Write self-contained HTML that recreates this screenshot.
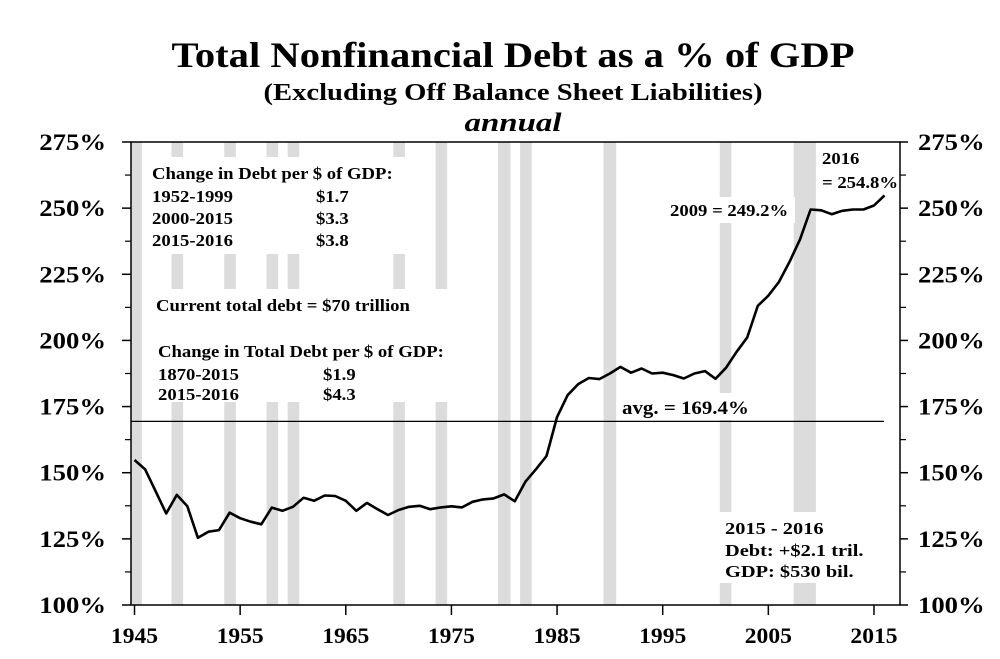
<!DOCTYPE html>
<html><head><meta charset="utf-8"><style>
body{margin:0;background:#fff;}
svg{display:block;font-family:"Liberation Serif",serif;font-weight:bold;}
</style></head><body>
<svg id="chart" width="1000" height="659" viewBox="0 0 1000 659">
<text x="513" y="67" text-anchor="middle" font-size="36" textLength="683" lengthAdjust="spacingAndGlyphs">Total Nonfinancial Debt as a % of GDP</text>
<text x="513" y="100" text-anchor="middle" font-size="24" textLength="499" lengthAdjust="spacingAndGlyphs">(Excluding Off Balance Sheet Liabilities)</text>
<text x="513" y="131" text-anchor="middle" font-size="26" font-style="italic" textLength="97" lengthAdjust="spacingAndGlyphs">annual</text>
<g id="bands"></g>
<g id="masks"></g>
<g id="axes"></g>
<line id="avgline" stroke="#000" stroke-width="1.3"/>
<path id="series" fill="none" stroke="#000" stroke-width="2.6" stroke-linejoin="round"/>
<g id="notes" font-size="17">
<text x="152" y="179">Change in Debt per $ of GDP:</text>
<text x="152" y="202">1952-1999</text>
<text x="316" y="202">$1.7</text>
<text x="152" y="224">2000-2015</text>
<text x="316" y="224">$3.3</text>
<text x="152" y="246">2015-2016</text>
<text x="316" y="246">$3.8</text>
<text x="156" y="311">Current total debt = $70 trillion</text>
<text x="158" y="357">Change in Total Debt per $ of GDP:</text>
<text x="158" y="380">1870-2015</text>
<text x="323" y="380">$1.9</text>
<text x="158" y="400">2015-2016</text>
<text x="323" y="400">$4.3</text>
<text x="822" y="164">2016</text>
<text x="822" y="188">= 254.8%</text>
<text x="670" y="216">2009 = 249.2%</text>
<text x="622" y="414" font-size="19">avg.  = 169.4%</text>
<text x="725" y="534" font-size="17">2015 - 2016</text>
<text x="725" y="556" font-size="17">Debt:  +$2.1 tril.</text>
<text x="725" y="577" font-size="17">GDP:  $530 bil.</text>
</g>
</svg>
<script>
const years=[];for(let y=1945;y<=2016;y++)years.push(y);
const debtPct=[154.8,151.3,143,134.6,141.6,137.4,125.4,127.7,128.3,134.9,132.8,131.5,130.5,136.8,135.6,137.1,140.5,139.4,141.4,141.2,139.4,135.6,138.6,136.2,134,135.9,137.1,137.5,136.2,136.9,137.3,136.9,139,139.9,140.3,141.8,139.2,146.6,151.3,156.3,171.1,179.3,183.5,185.8,185.4,187.5,190,187.8,189.4,187.5,187.8,186.9,185.6,187.5,188.4,185.5,189.7,195.7,201.1,213.1,216.9,222.1,229.7,238.2,249.5,249.2,247.7,249,249.5,249.5,251,254.8];
const avgPct=169.4;
const recessionStarts=[1944.7,1948.5,1953.5,1957.5,1959.5,1969.5,1973.5,1979.4,1981.5,1989.4,2000.4,2007.4];
const recessionEnds=[1945.7,1949.6,1954.6,1958.6,1960.6,1970.6,1974.6,1980.6,1982.6,1990.6,2001.5,2009.5];
const yTicks=[100,125,150,175,200,225,250,275];
const xTicks=[1945,1955,1965,1975,1985,1995,2005,2015];
const NS='http://www.w3.org/2000/svg';
const L=131,R=900,T=142,B=605;
const xs=y=>134.5+(y-1945)*10.564;
const ys=v=>B-(v-100)*(B-T)/175;
function mk(tag,attrs,parent){const e=document.createElementNS(NS,tag);for(const k in attrs)e.setAttribute(k,attrs[k]);parent.appendChild(e);return e;}
function stretch(el,f){const w=el.getComputedTextLength();el.setAttribute('textLength',(w*f).toFixed(1));el.setAttribute('lengthAdjust','spacingAndGlyphs');}
const bands=document.getElementById('bands');
recessionStarts.forEach((s,i)=>{
  const x0=Math.max(L,xs(s));
  const r=mk('rect',{x:x0,y:T,width:xs(recessionEnds[i])-x0,height:B-T,fill:'#dcdcdc'},bands);
  
  
});
const masks=document.getElementById('masks');
[[145,157,272,97],[145,289,322,113],[665,197,130,26],[617,393,145,27],[715,512,115,71]].forEach(m=>{
  const r=mk('rect',{x:m[0],y:m[1],width:m[2],height:m[3],fill:'#fff'},masks);
  
  
});
const ax=document.getElementById('axes');
const frame=mk('rect',{x:L,y:T,width:R-L,height:B-T,fill:'none',stroke:'#000','stroke-width':1.5},ax);


yTicks.forEach(v=>{
  const y=ys(v);
  mk('line',{x1:L-9,x2:L,y1:y,y2:y,stroke:'#000','stroke-width':1.5},ax);
  mk('line',{x1:R,x2:R+8,y1:y,y2:y,stroke:'#000','stroke-width':1.5},ax);
  if(v<275){mk('line',{x1:L-6,x2:L,y1:ys(v+12.5),y2:ys(v+12.5),stroke:'#000','stroke-width':1.2},ax);
  mk('line',{x1:R,x2:R+6,y1:ys(v+12.5),y2:ys(v+12.5),stroke:'#000','stroke-width':1.2},ax);}
  const t1=mk('text',{x:106,y:y+8,'text-anchor':'end','font-size':23},ax);t1.textContent=v+'%';
  
  
  stretch(t1,1.16);
  const t2=mk('text',{x:918,y:y+8,'font-size':23},ax);t2.textContent=v+'%';
  
  
  stretch(t2,1.16);
});
xTicks.forEach(yr=>{
  const x=xs(yr);
  mk('line',{x1:x,x2:x,y1:B,y2:B+10,stroke:'#000','stroke-width':1.5},ax);
  const t=mk('text',{x:x,y:643,'text-anchor':'middle','font-size':22},ax);t.textContent=yr;
  
  
  stretch(t,1.07);
});
document.querySelectorAll('#notes text').forEach(t=>{
  const big=t.getAttribute('x')==='725';
  stretch(t,big?1.2:1.1);
});
const al=document.getElementById('avgline');
al.setAttribute('x1',L);al.setAttribute('x2',884);al.setAttribute('y1',ys(avgPct));al.setAttribute('y2',ys(avgPct));
document.getElementById('series').setAttribute('d',debtPct.map((v,i)=>(i?'L':'M')+xs(years[i]).toFixed(1)+','+ys(v).toFixed(1)).join(' '));
</script>
</body></html>
